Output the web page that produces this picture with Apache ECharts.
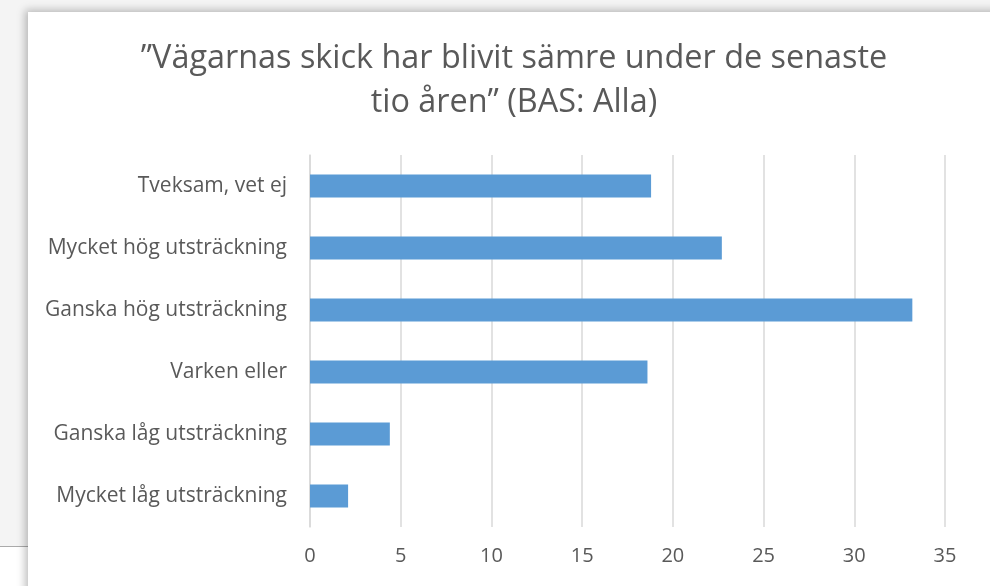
<!DOCTYPE html>
<html>
<head>
<meta charset="utf-8">
<script src="https://cdn.jsdelivr.net/npm/echarts@6/dist/echarts.min.js"></script>
<style>
  html, body { margin: 0; padding: 0; background: #f4f4f4; }
  #card {
    position: absolute; left: 28px; top: 12px; width: 990px; height: 600px;
    background: #fff; box-shadow: -3px -2px 8px rgba(0,0,0,0.25);
  }
  #under {
    position: absolute; left: 0; top: 546px; width: 30px; height: 40px;
    background: #fff; border-top: 1px solid #aaa;
  }
  #chart { position: absolute; left: 0; top: 0; width: 990px; height: 586px; }
</style>
</head>
<body>
<div id="under"></div>
<div id="card"></div>
<div id="chart"></div>
<script>
// kategorier nerifrån och upp
var categories = [
    'Mycket låg utsträckning',
    'Ganska låg utsträckning',
    'Varken eller',
    'Ganska hög utsträckning',
    'Mycket hög utsträckning',
    'Tveksam, vet ej'
];
var values = [2.1, 4.4, 18.6, 33.2, 22.7, 18.8];
var xTicks = [0, 5, 10, 15, 20, 25, 30, 35];

var titleText = '”Vägarnas skick har blivit sämre under de senaste\ntio åren” (BAS: Alla)';
var textColor = '#595959';
var fontName = 'Open Sans';

var chart = echarts.init(document.getElementById('chart'), null, {renderer: 'canvas'});

chart.setOption({
    animation: false,
    backgroundColor: 'transparent',
    title: {
        text: titleText,
        left: 509,
        textAlign: 'center',
        top: 32,
        textStyle: {
            color: textColor,
            fontFamily: fontName,
            fontWeight: 'normal',
            fontSize: 32.4,
            lineHeight: 44
        }
    },
    grid: { left: 310, right: 45, top: 155, bottom: 59, containLabel: false },
    xAxis: {
        type: 'value',
        min: xTicks[0],
        max: xTicks[xTicks.length - 1],
        interval: 5,
        axisLine: { show: false },
        axisTick: { show: false },
        splitLine: { lineStyle: { color: '#d9d9d9', width: 1.5 } },
        axisLabel: { color: textColor, fontFamily: fontName, fontSize: 20, margin: 19 }
    },
    yAxis: {
        type: 'category',
        data: categories,
        axisLine: { show: true, lineStyle: { color: '#d9d9d9', width: 1.5 } },
        axisTick: { show: false },
        axisLabel: { color: textColor, fontFamily: fontName, fontSize: 21, margin: 23 }
    },
    series: [{
        type: 'bar',
        data: values,
        barWidth: '37%',
        itemStyle: { color: '#5b9bd5' }
    }]
});
</script>
</body>
</html>
